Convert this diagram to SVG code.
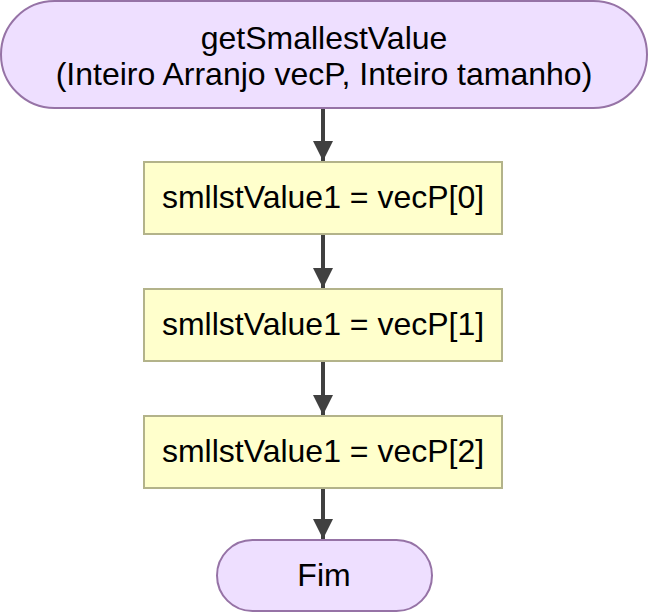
<svg xmlns="http://www.w3.org/2000/svg" width="649" height="613" viewBox="0 0 649 613">
<style>
.term{fill:#eedfff;stroke:#9673a6;stroke-width:2}
.proc{fill:#ffffcc;stroke:#b3b38a;stroke-width:2}
.t{font-family:"Liberation Sans",Arial,sans-serif;font-size:32px;fill:#000;text-anchor:middle}
.c{stroke:#404040;stroke-width:4;fill:none}
</style>
<defs>
<marker id="ah" markerUnits="userSpaceOnUse" markerWidth="22" markerHeight="20" refX="20" refY="10" orient="auto" viewBox="0 0 20 20">
<path d="M0,0 L20,10 L0,20 Z" fill="#404040"/>
</marker>
</defs>
<rect width="649" height="613" fill="#ffffff"/>
<g id="connectors">
<line class="c" x1="323" y1="109" x2="323" y2="161" marker-end="url(#ah)"/>
<line class="c" x1="323" y1="235" x2="323" y2="288" marker-end="url(#ah)"/>
<line class="c" x1="323" y1="362" x2="323" y2="415" marker-end="url(#ah)"/>
<line class="c" x1="323" y1="489" x2="323" y2="539" marker-end="url(#ah)"/>
</g>
<g id="start">
<rect class="term" x="1" y="1" width="646" height="107" rx="53.5"/>
<text class="t" x="324" y="48.5">getSmallestValue</text>
<text class="t" x="324" y="85">(Inteiro Arranjo vecP, Inteiro tamanho)</text>
</g>
<g id="step1">
<rect class="proc" x="144" y="162" width="358" height="72"/>
<text class="t" x="323" y="207.5">smllstValue1 = vecP[0]</text>
</g>
<g id="step2">
<rect class="proc" x="144" y="289" width="358" height="72"/>
<text class="t" x="323" y="334.5">smllstValue1 = vecP[1]</text>
</g>
<g id="step3">
<rect class="proc" x="144" y="416" width="358" height="72"/>
<text class="t" x="323" y="461.5">smllstValue1 = vecP[2]</text>
</g>
<g id="end">
<rect class="term" x="217" y="540" width="215" height="71" rx="35.5"/>
<text class="t" x="324" y="585.5">Fim</text>
</g>
</svg>
